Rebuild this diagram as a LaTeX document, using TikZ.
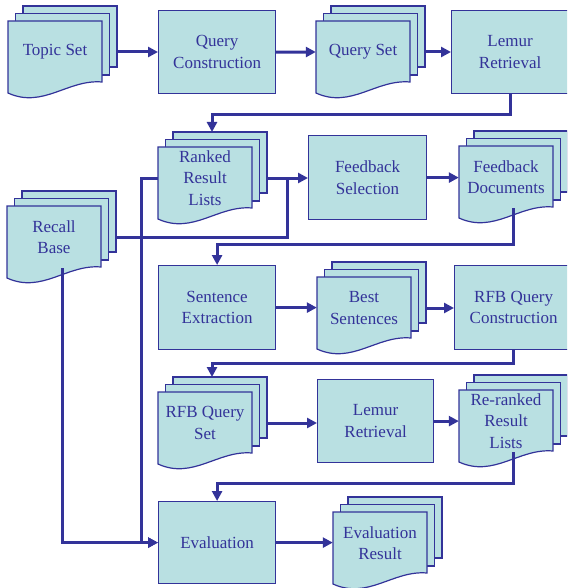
\documentclass[tikz,border=0pt]{standalone}
\usepackage{fontspec}
\setmainfont{Liberation Serif}
\usepackage{tikz}
\usetikzlibrary{arrows.meta, positioning}

\definecolor{navy}{RGB}{51,51,153}
\definecolor{paleblue}{RGB}{185,224,226}

% a stack of three sheets: name, x, y of the front sheet, text
\newcommand{\docstack}[4]{%
	\begin{scope}[shift={(#2,#3)}]
		\draw[sheet] (15,-15) rectangle (109,46);
		\draw[sheet] (7.5,-7.5) rectangle (101.5,54);
		\draw[sheet] (0,0) -- (94,0) -- (94,61) .. controls (60,58) and (35,88) .. (0,72) -- cycle;
		\node[doc] (#1) at (47,31) {#4};
		\coordinate (#1-r) at (109,31);
		\coordinate (#1-t) at (54,-15);
	\end{scope}}

\begin{document}
\begin{tikzpicture}[x=1pt, y=-1pt,
		sheet/.style={draw=navy, fill=paleblue, line width=1.2pt},
		doc/.style={minimum width=94pt, minimum height=62pt, inner sep=0pt, align=center, text=navy, font=\fontsize{17}{21.5}\selectfont},
		proc/.style={draw=navy, fill=paleblue, line width=1.2pt, anchor=north west, inner sep=0pt, align=center, text=navy, font=\fontsize{17}{21.5}\selectfont},
		link/.style={draw=navy, line width=3pt, -{Triangle[length=10pt, width=10pt]}},
		line/.style={draw=navy, line width=3pt}]
		\clip (0,0) rectangle (567,588);
		% first row
		\docstack{topic}{8}{21}{Topic Set}
		\node[proc, minimum width=117pt, minimum height=83pt] (qc) at (158,10) {Query\\Construction};
		\docstack{qset}{316}{21}{Query Set}
		\node[proc, minimum width=117pt, minimum height=83pt] (lemur) at (451,10) {Lemur\\Retrieval};
		% second row
		\docstack{ranked}{158}{147}{Ranked\\Result\\Lists}
		\docstack{recall}{7}{206}{Recall\\Base}
		\node[proc, minimum width=118pt, minimum height=84pt] (fsel) at (308,135) {Feedback\\Selection};
		\docstack{fdocs}{459}{146}{Feedback\\Documents}
		% third row
		\node[proc, minimum width=117pt, minimum height=84pt] (sent) at (158,265) {Sentence\\Extraction};
		\docstack{best}{317}{277}{Best\\Sentences}
		\node[proc, minimum width=118pt, minimum height=84pt] (rfbqc) at (454,265) {RFB Query\\Construction};
		% fourth row
		\docstack{rfbset}{158}{392}{RFB Query\\Set}
		\node[proc, minimum width=116pt, minimum height=83pt] (lemurb) at (317,379) {Lemur\\Retrieval};
		\docstack{rerank}{459}{390}{Re-ranked\\Result\\Lists}
		% last row
		\node[proc, minimum width=117pt, minimum height=82pt] (eval) at (158,501) {Evaluation};
		\docstack{evres}{333}{512}{Evaluation\\Result}

		\draw[link] (topic-r) -- (topic-r -| qc.west);
		\draw[link] (qc.east) -- (qset.west);
		\draw[link] (qset-r) -- (qset-r -| lemur.west);
		\draw[link] (lemur.south) -- ++(0,20) -| (ranked-t);
		\draw[link] (ranked-r) -- (ranked-r -| fsel.west);
		\path (ranked-r) -- coordinate[pos=0.49] (join) (ranked-r -| fsel.west);
		\draw[line] (recall-r) -| (join);
		\draw[link] (ranked.west) -- ++(-16,0) |- (eval.west);
		\draw[link] ([xshift=8pt]recall.south) |- (eval.west);
		\draw[link] (fsel.east) -- (fsel.east -| fdocs.west);
		\draw[link] ([xshift=7pt]fdocs.south) -- ++(0,36) -| (sent.north);
		\draw[link] (sent.east) -- (sent.east -| best.west);
		\draw[link] (best-r) -- (best-r -| rfbqc.west);
		\draw[link] (rfbqc.south) -- ++(0,13) -| (rfbset-t);
		\draw[link] (rfbset-r) -- (rfbset-r -| lemurb.west);
		\draw[link] (lemurb.east) -- (lemurb.east -| rerank.west);
		\draw[link] ([xshift=7pt]rerank.south) -- ++(0,31) -| (eval.north);
		\draw[link] (eval.east) -- (eval.east -| evres.west);
\end{tikzpicture}
\end{document}
